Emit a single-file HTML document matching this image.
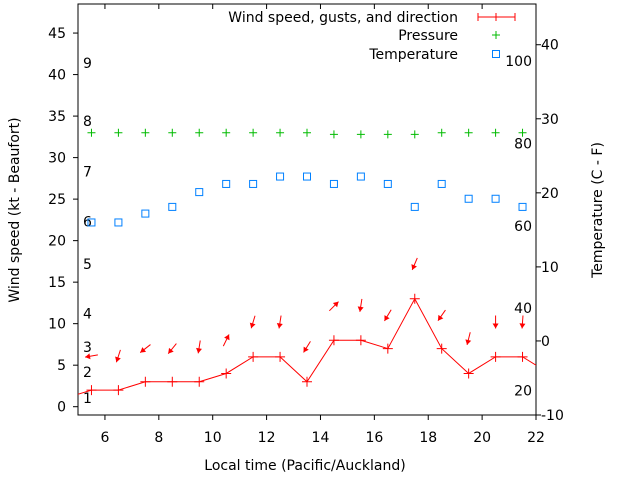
<!DOCTYPE html>
<html><head><meta charset="utf-8"><style>
html,body{margin:0;padding:0;background:#fff;}
svg{display:block;font-family:"DejaVu Sans","Liberation Sans",sans-serif;}
</style></head><body>
<svg id="c" width="640" height="480" viewBox="0 0 640 480"></svg>
<script>
const hours=[5.5,6.5,7.5,8.5,9.5,10.5,11.5,12.5,13.5,14.5,15.5,16.5,17.5,18.5,19.5,20.5,21.5];
const windSpeed=[2,2,3,3,3,4,6,6,3,8,8,7,13,7,4,6,6];
const windEdgeHours=[4.5,22.5];
const windEdgeValues=[1,4];
const gusts=[6.1,6.1,7,7,7.2,8,10.2,10.2,7.2,12.1,12.2,11,17.2,11,8.2,10.2,10.2];
const directions=[80,18,52,39,9,206,17,9,32,225,9,31,23,35,14,0,4];
const pressure=[33.0,33.0,33.0,33.0,33.0,33.0,33.0,33.0,33.0,32.8,32.8,32.8,32.8,33.0,33.0,33.0,33.0];
const temperature=[16,16,17.2,18.1,20.1,21.2,21.2,22.2,22.2,21.2,22.2,21.2,18.1,21.2,19.2,19.2,18.1];
const xTicks=[6,8,10,12,14,16,18,20,22];
const yTicks=[0,5,10,15,20,25,30,35,40,45];
const y2Ticks=[-10,0,10,20,30,40];
const beaufortLabels=["1","2","3","4","5","6","7","8","9"];
const beaufortKt=[1.05,4.2,7.2,11.2,17.2,22.3,28.3,34.4,41.4];
const fahrenheit=[20,40,60,80,100];

const L=78,R=536,T=4,B=415;
const X=v=>L+(v-5)*(R-L)/17;
const Y=v=>B-(v+1)*(B-T)/49.5;
const Y2=v=>B-(v+10)*(B-T)/55.5;
const F2C=f=>(f-32)*5/9;
const svg=document.getElementById('c');
const NS="http://www.w3.org/2000/svg";
function mk(tag,attrs,parent){const e=document.createElementNS(NS,tag);for(const k in attrs)e.setAttribute(k,attrs[k]);(parent||svg).appendChild(e);return e;}
function txt(s,x,y,anchor,name,extra){const t=mk('text',Object.assign({x:x,y:y,'text-anchor':anchor,'font-size':14,fill:'#000'},extra||{}));t.textContent=s;return t;}

const defs=mk('defs',{});const cp=mk('clipPath',{id:'pc'},defs);mk('rect',{x:L,y:T,width:R-L,height:B-T},cp);

const frame=mk('rect',{x:L,y:T,width:R-L,height:B-T,fill:'none',stroke:'#000','stroke-width':1});



xTicks.forEach(v=>{
  const x=X(v);
  const t1=mk('line',{x1:x,y1:B,x2:x,y2:B+5,stroke:'#000'});
  
  
  mk('line',{x1:x,y1:T,x2:x,y2:T+5,stroke:'#000'});
  txt(String(v),x,442,'middle','x-tick-label');
});
yTicks.forEach(v=>{
  const y=Y(v);
  const t=mk('line',{x1:L-5,y1:y,x2:L,y2:y,stroke:'#000'});
  
  
  txt(String(v),66,y+5,'end','y-tick-label');
});
y2Ticks.forEach(v=>{
  const y=Y2(v);
  const t=mk('line',{x1:R,y1:y,x2:R+5,y2:y,stroke:'#000'});
  
  
  txt(String(v),541,y+5,'start','y2-tick-label');
});
beaufortLabels.forEach((s,i)=>{txt(s,83,Y(beaufortKt[i])+5,'start','beaufort-label');});
fahrenheit.forEach(f=>{txt(String(f),532,Y2(F2C(f))+5,'end','fahrenheit-label');});

txt('Local time (Pacific/Auckland)',305,470,'middle','x-axis-title');
txt('Wind speed (kt - Beaufort)',19,210,'middle','y-axis-title',{transform:'rotate(-90 19 210)'});
txt('Temperature (C - F)',602,210,'middle','y2-axis-title',{transform:'rotate(-90 602 210)'});

const g=mk('g',{'clip-path':'url(#pc)'});
const wx=[windEdgeHours[0]].concat(hours,[windEdgeHours[1]]);
const wy=[windEdgeValues[0]].concat(windSpeed,[windEdgeValues[1]]);
const pl=mk('polyline',{points:wx.map((h,i)=>X(h)+','+Y(wy[i])).join(' '),fill:'none',stroke:'#f00','stroke-width':1},g);


hours.forEach((h,i)=>{
  const x=X(h),y=Y(windSpeed[i]);
  const p=mk('path',{d:`M${x-5} ${y}H${x+5}M${x} ${y-5}V${y+5}`,stroke:'#f00','stroke-width':1},g);
  
  
});
hours.forEach((h,i)=>{
  const cx=X(h),cy=Y(gusts[i]);
  const a=(directions[i]+180)*Math.PI/180;
  const dx=Math.sin(a),dy=-Math.cos(a),len=13;
  const x1=cx-dx*len/2,y1=cy-dy*len/2,x2=cx+dx*len/2,y2=cy+dy*len/2;
  const px=-dy,py=dx;
  const hx=x2-dx*5,hy=y2-dy*5;
  const ar=mk('g',{},g);
  
  
  mk('line',{x1:x1,y1:y1,x2:x2,y2:y2,stroke:'#f00','stroke-width':1},ar);
  mk('polygon',{points:`${x2},${y2} ${hx+px*3},${hy+py*3} ${hx-px*3},${hy-py*3}`,fill:'#f00'},ar);
});
hours.forEach((h,i)=>{
  const x=X(h),y=Y(pressure[i]);
  const p=mk('path',{d:`M${x-4} ${y}H${x+4}M${x} ${y-4}V${y+4}`,stroke:'#0b0','stroke-width':1},g);
  
  
});
hours.forEach((h,i)=>{
  const x=X(h),y=Y2(temperature[i]);
  const r=mk('rect',{x:x-3.5,y:y-3.5,width:7,height:7,fill:'none',stroke:'#0080ff','stroke-width':1},g);
  
  
});

const lg=mk('g',{});


txt('Wind speed, gusts, and direction',458,22,'end','legend-label-wind');
mk('path',{d:'M478 17H515M478 13V21M515 13V21M496 13V21',stroke:'#f00'},lg);
txt('Pressure',458,40,'end','legend-label-pressure');
mk('path',{d:'M492 35H500M496 31V39',stroke:'#0b0'},lg);
txt('Temperature',458,59,'end','legend-label-temperature');
mk('rect',{x:492.5,y:50.5,width:7,height:7,fill:'none',stroke:'#0080ff'},lg);
</script>
</body></html>
